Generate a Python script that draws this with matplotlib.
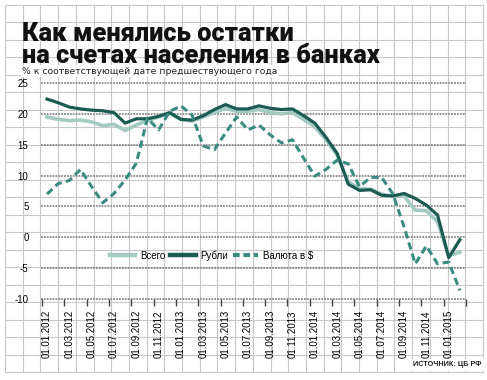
#!/usr/bin/env python3
"""Remaining balances on household bank accounts, % y/y (Bank of Russia)."""

import matplotlib
matplotlib.use('Agg')
import matplotlib.pyplot as plt
import numpy as np
from matplotlib import font_manager
from matplotlib.patches import Rectangle
from matplotlib.lines import Line2D

# monthly data 01.01.2012 .. 01.02.2015
months = np.arange(38)
total = [19.5, 19.1, 18.9, 19.0, 18.7, 18.1, 18.3, 17.3, 18.2, 18.9,
         19.5, 20.0, 19.1, 18.8, 19.5, 20.2, 20.9, 20.4, 20.4, 20.7,
         20.2, 20.0, 20.2, 19.1, 17.9, 15.8, 13.3, 9.0, 7.9, 7.8,
         7.0, 6.6, 6.7, 4.4, 4.3, 2.5, -3.0, -2.4]
rubles = [22.4, 21.8, 21.1, 20.8, 20.6, 20.5, 20.2, 18.5, 19.2, 19.2,
          19.6, 20.2, 19.1, 19.0, 19.7, 20.7, 21.5, 20.8, 20.8, 21.3,
          20.9, 20.7, 20.8, 19.7, 18.5, 16.2, 13.6, 8.6, 7.6, 7.7,
          6.8, 6.7, 7.1, 6.3, 5.2, 3.6, -3.3, -0.4]
currency = [7.0, 8.7, 9.2, 11.0, 8.2, 5.6, 7.1, 9.3, 12.0, 19.3,
            17.4, 20.4, 21.3, 19.8, 14.8, 14.2, 16.9, 19.5, 17.4, 18.2,
            16.6, 15.3, 15.8, 12.8, 9.9, 11.0, 12.5, 11.9, 8.2, 9.7,
            9.7, 7.0, 1.7, -4.3, -1.4, -4.3, -4.0, -8.6]
tick_labels = ['01.01.2012', '01.03.2012', '01.05.2012', '01.07.2012', '01.09.2012',
               '01.11.2012', '01.01.2013', '01.03.2013', '01.05.2013', '01.07.2013',
               '01.09.2013', '01.11.2013', '01.01.2014', '01.03.2014', '01.05.2014',
               '01.07.2014', '01.09.2014', '01.11.2014', '01.01.2015']
y_ticks = [-10, -5, 0, 5, 10, 15, 20, 25]

LIGHT = '#a4cbc2'
DARK = '#1c5b52'
MID = '#3a8c80'

# a narrow face if there is one, otherwise a smaller Liberation Sans
installed = {f.name for f in font_manager.fontManager.ttflist}
if 'Liberation Sans Narrow' in installed:
    NARROW, small = ['Liberation Sans Narrow', 'DejaVu Sans'], 8.3
else:
    NARROW, small = ['Liberation Sans', 'DejaVu Sans'], 7.0

W, H = 487, 380
fig = plt.figure(figsize=(W / 100, H / 100), dpi=100)
fig.patch.set_facecolor('white')

# graph paper background, in pixel coordinates
bg = fig.add_axes([0, 0, 1, 1], zorder=0)
bg.set_xlim(0, W)
bg.set_ylim(H, 0)
bg.axis('off')
for x in np.linspace(5, 483, 28):
    bg.plot([x, x], [5, 372], color='#c8c8c8', lw=0.8)
for y in np.linspace(5, 372, 22):
    bg.plot([5, 483], [y, y], color='#c8c8c8', lw=0.8)
bg.add_patch(Rectangle((13, 13), 462, 53, facecolor='white', edgecolor='none'))

bg.text(22, 63, 'Как менялись остатки\nна счетах населения в банках', fontsize=18.3,
        fontweight='heavy', family=['Roboto', 'DejaVu Sans'], color='#111111',
        va='baseline', linespacing=0.9)
bg.text(22, 71, '% к соответствующей дате предшествующего года', fontsize=6.7,
        color='#222222', va='center',
        bbox=dict(facecolor='white', edgecolor='none', pad=1))
bg.text(481, 365, 'ИСТОЧНИК: ЦБ РФ', fontsize=small - 1.8, family=NARROW,
        fontweight='bold', color='#222222', ha='right', va='center',
        bbox=dict(facecolor='white', edgecolor='none', pad=2))

# main chart
ax = fig.add_axes([41 / W, (H - 299) / H, 425 / W, 216 / H], zorder=2)
ax.patch.set_alpha(0)
ax.set_xlim(-0.54, 37.54)
ax.set_ylim(-10, 25)
for s in ax.spines.values():
    s.set_visible(False)

for v in y_ticks:
    ax.axhline(v, color='#8a8a8a', lw=1.3, ls=(0, (1, 0.6)), clip_on=False, zorder=1)

ax.plot(months, total, color=LIGHT, lw=2.6, zorder=3, solid_joinstyle='round')
ax.plot(months, rubles, color=DARK, lw=2.3, zorder=4, solid_joinstyle='round')
ax.plot(months, currency, color=MID, lw=2.2, ls=(0, (2.4, 1.4)), zorder=5)

ax.set_yticks(y_ticks)
ax.set_yticklabels([str(v) for v in y_ticks], family=NARROW, fontsize=small)
ax.tick_params(axis='y', length=0, pad=9)

ax.set_xticks(months[::2])
ax.set_xticklabels(tick_labels, rotation=90, family=NARROW, fontsize=small)
ax.set_xticks(np.arange(0, 40, 2) - 0.45, minor=True)
ax.tick_params(axis='x', which='major', length=0, pad=8)
ax.tick_params(axis='x', which='minor', length=5, width=1, color='#444444', direction='out')

handles = [Line2D([], [], color=LIGHT, lw=3.2),
           Line2D([], [], color=DARK, lw=3.2),
           Line2D([], [], color=MID, lw=3.0, ls=(0, (1.6, 0.9)))]
ax.legend(handles, ['Всего', 'Рубли', 'Валюта в $'], ncol=3, frameon=False,
          loc='center', bbox_to_anchor=(0.402, 0.202), handlelength=2.6,
          handletextpad=0.5, columnspacing=0.5, prop={'family': NARROW, 'size': small})

plt.savefig('out.png', dpi=100)
